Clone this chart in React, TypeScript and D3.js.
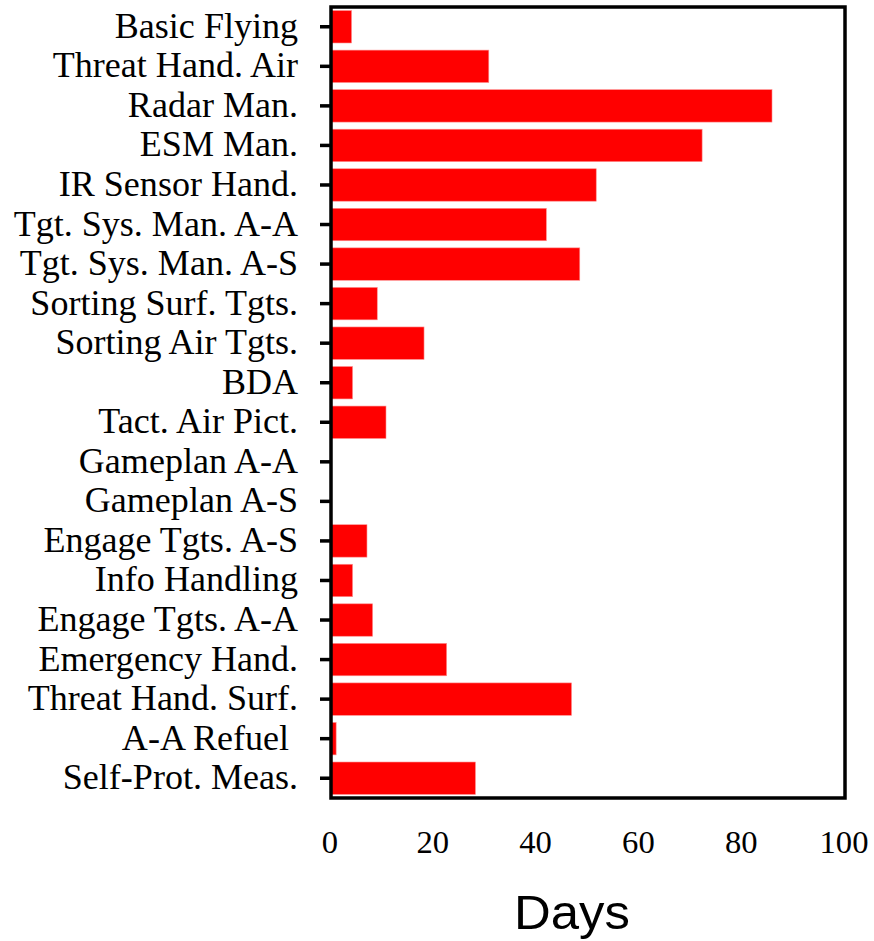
import { useEffect, useRef } from 'react'
import * as d3 from 'd3'

// chart data
const categories = [
  'Basic Flying', 'Threat Hand. Air', 'Radar Man.', 'ESM Man.', 'IR Sensor Hand.',
  'Tgt. Sys. Man. A-A', 'Tgt. Sys. Man. A-S', 'Sorting Surf. Tgts.', 'Sorting Air Tgts.', 'BDA',
  'Tact. Air Pict.', 'Gameplan A-A', 'Gameplan A-S', 'Engage Tgts. A-S', 'Info Handling',
  'Engage Tgts. A-A', 'Emergency Hand.', 'Threat Hand. Surf.', 'A-A Refuel ', 'Self-Prot. Meas.'
]
const days = [4, 30.7, 85.8, 72.2, 51.6, 41.9, 48.4, 9, 18.1, 4.2, 10.7, 0, 0, 7, 4.2, 8.1, 22.5, 46.8, 1, 28.1]
const xTicks = [0, 20, 40, 60, 80, 100]
const xLabel = 'Days'

const App = () => {
  const chart = useRef<SVGSVGElement>(null)

  useEffect(() => {
    const svg = d3.select(chart.current)
    svg.selectAll('*').remove()

    const left = 331, right = 845, top = 7, bottom = 798

    const x = d3.scaleLinear().domain([0, 100]).range([left, right])
    const y = d3.scaleBand<string>()
      .domain(categories)
      .range([top, bottom])
      .paddingInner(0.18)
      .paddingOuter(0.09)

    // bars
    svg.append('g')
      .selectAll('rect')
      .data(categories.map((c, i) => ({ c, v: days[i] })))
      .enter().append('rect')
      .attr('x', x(0))
      .attr('y', d => y(d.c)!)
      .attr('width', d => x(d.v) - x(0))
      .attr('height', y.bandwidth())
      .attr('fill', '#ff0000')
      .attr('stroke', d => d.v > 0 ? '#ff9090' : 'none')
      .attr('stroke-width', 0.6)

    // frame
    svg.append('rect')
      .attr('x', left)
      .attr('y', top)
      .attr('width', right - left)
      .attr('height', bottom - top)
      .attr('fill', 'none')
      .attr('stroke', '#000')
      .attr('stroke-width', 3.5)

    // y ticks + labels
    const yg = svg.append('g')
    categories.forEach(c => {
      const cy = y(c)! + y.bandwidth() / 2
      yg.append('line')
        .attr('x1', left - 11).attr('x2', left)
        .attr('y1', cy).attr('y2', cy)
        .attr('stroke', '#000').attr('stroke-width', 3.5)
      yg.append('text')
        .attr('transform', `translate(298,${cy + 11}) scale(1.03,1)`)
        .attr('text-anchor', 'end')
        .attr('font-family', '"Liberation Serif", "Times New Roman", serif')
        .attr('font-size', 35)
        .attr('fill', '#000')
        .attr('xml:space', 'preserve')
        .style('white-space', 'pre')
        .text(c)
    })

    // x tick labels
    svg.append('g')
      .selectAll('text')
      .data(xTicks)
      .enter().append('text')
      .attr('transform', d => `translate(${x(d) - 1},853) scale(1.02,1)`)
      .attr('text-anchor', 'middle')
      .attr('font-family', '"Liberation Serif", "Times New Roman", serif')
      .attr('font-size', 32)
      .attr('fill', '#000')
      .text(d => d)

    // axis title
    svg.append('text')
      .attr('transform', 'translate(572,929) scale(1.06,1)')
      .attr('text-anchor', 'middle')
      .attr('font-family', '"Liberation Sans", Arial, sans-serif')
      .attr('font-size', 48)
      .attr('fill', '#000')
      .text(xLabel)
  }, [])

  return (
    <svg
      ref={chart}
      width={874}
      height={941}
      style={{ position: 'absolute', left: 0, top: 0, background: '#fff' }}
    />
  )
}

export default App
